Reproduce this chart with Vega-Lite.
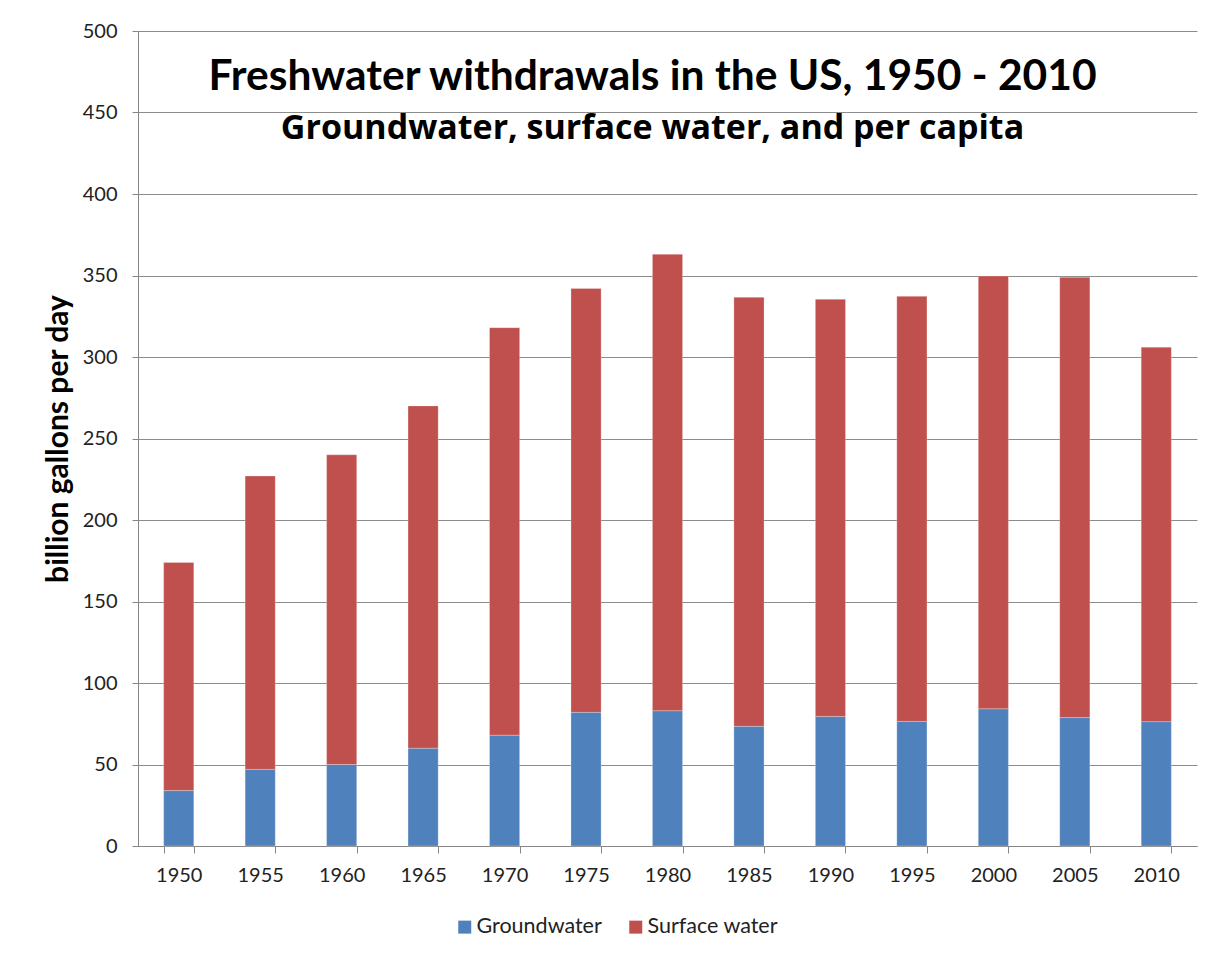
{
  "$schema": "https://vega.github.io/schema/vega-lite/v6.json",
  "autosize": "none",
  "width": 1059,
  "height": 815,
  "padding": {"left": 138, "top": 31, "right": 13, "bottom": 111},
  "background": "white",
  "title": {
    "text": "Freshwater withdrawals in the US, 1950 - 2010",
    "subtitle": "Groundwater, surface water, and per capita",
    "anchor": "middle",
    "frame": "group",
    "offset": -125,
    "dx": -15,
    "font": "Lato",
    "fontSize": 42.5,
    "fontWeight": "bold",
    "color": "black",
    "subtitleFont": "Open Sans",
    "subtitleFontSize": 34,
    "subtitleFontWeight": "bold",
    "subtitleColor": "black",
    "subtitlePadding": 14
  },
  "data": {
    "values": [
      {"year": "1950", "source": "Groundwater", "value": 34},
      {"year": "1950", "source": "Surface water", "value": 140},
      {"year": "1955", "source": "Groundwater", "value": 47},
      {"year": "1955", "source": "Surface water", "value": 180},
      {"year": "1960", "source": "Groundwater", "value": 50},
      {"year": "1960", "source": "Surface water", "value": 190},
      {"year": "1965", "source": "Groundwater", "value": 60},
      {"year": "1965", "source": "Surface water", "value": 210},
      {"year": "1970", "source": "Groundwater", "value": 68},
      {"year": "1970", "source": "Surface water", "value": 250},
      {"year": "1975", "source": "Groundwater", "value": 82},
      {"year": "1975", "source": "Surface water", "value": 260},
      {"year": "1980", "source": "Groundwater", "value": 83},
      {"year": "1980", "source": "Surface water", "value": 280},
      {"year": "1985", "source": "Groundwater", "value": 73.4},
      {"year": "1985", "source": "Surface water", "value": 263.2},
      {"year": "1990", "source": "Groundwater", "value": 79.5},
      {"year": "1990", "source": "Surface water", "value": 255.9},
      {"year": "1995", "source": "Groundwater", "value": 76.4},
      {"year": "1995", "source": "Surface water", "value": 260.8},
      {"year": "2000", "source": "Groundwater", "value": 84.2},
      {"year": "2000", "source": "Surface water", "value": 265.5},
      {"year": "2005", "source": "Groundwater", "value": 78.8},
      {"year": "2005", "source": "Surface water", "value": 270.1},
      {"year": "2010", "source": "Groundwater", "value": 76.3},
      {"year": "2010", "source": "Surface water", "value": 229.7}
    ]
  },
  "mark": {"type": "bar", "stroke": "white", "strokeOpacity": 0.5, "strokeWidth": 0.5},
  "encoding": {
    "x": {
      "field": "year",
      "type": "ordinal",
      "scale": {"paddingInner": 0.63, "paddingOuter": 0.315},
      "axis": {
        "title": null,
        "labelAngle": 0,
        "labelFont": "Lato",
        "labelFontSize": 20,
        "labelColor": "#222222",
        "labelPadding": 12,
        "tickBand": "extent",
        "tickSize": 7,
        "tickColor": "#868686",
        "domainColor": "#868686",
        "grid": false
      }
    },
    "y": {
      "field": "value",
      "type": "quantitative",
      "stack": "zero",
      "scale": {"domain": [0, 500], "nice": false},
      "axis": {
        "title": "billion gallons per day",
        "titleFont": "Lato",
        "titleFontSize": 30,
        "titleFontWeight": "bold",
        "titleColor": "black",
        "titlePadding": 9,
        "values": [0, 50, 100, 150, 200, 250, 300, 350, 400, 450, 500],
        "labelFont": "Lato",
        "labelFontSize": 20,
        "labelColor": "#222222",
        "labelPadding": 15,
        "tickSize": 6,
        "tickColor": "#868686",
        "domainColor": "#868686",
        "gridColor": "#8c8c8c",
        "gridWidth": 1
      }
    },
    "color": {
      "field": "source",
      "type": "nominal",
      "scale": {"domain": ["Groundwater", "Surface water"], "range": ["#4F81BD", "#C0504D"]},
      "legend": {
        "title": null,
        "orient": "none",
        "direction": "horizontal",
        "legendX": 316,
        "legendY": 885,
        "symbolType": "square",
        "symbolSize": 169,
        "symbolStrokeWidth": 0,
        "labelFont": "Lato",
        "labelFontSize": 21.5,
        "labelColor": "#222222",
        "labelOffset": 1,
        "columnPadding": 23
      }
    },
    "order": {"field": "source", "type": "nominal", "sort": "ascending"}
  },
  "config": {"view": {"stroke": null}}
}
